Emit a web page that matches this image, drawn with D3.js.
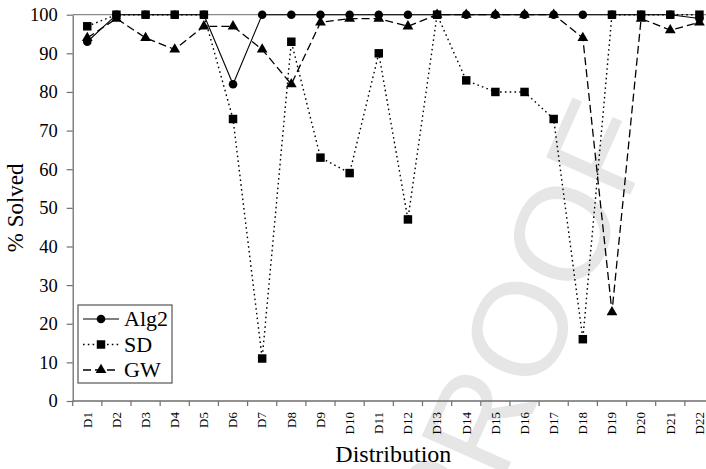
<!DOCTYPE html>
<html>
<head>
<meta charset="utf-8">
<script src="https://cdn.jsdelivr.net/npm/d3@7"></script>
<style>
  html, body { margin: 0; padding: 0; background: #fff; overflow: hidden; }
  svg { display: block; }
</style>
</head>
<body>
<svg id="chart" width="706" height="469"></svg>
<script>
const categories = ["D1","D2","D3","D4","D5","D6","D7","D8","D9","D10","D11","D12","D13","D14","D15","D16","D17","D18","D19","D20","D21","D22"];
const alg2 = [93,100,100,100,100,82,100,100,100,100,100,100,100,100,100,100,100,100,100,100,100,99];
const sd   = [97,100,100,100,100,73,11,93,63,59,90,47,100,83,80,80,73,16,100,100,100,100];
const gw   = [94,99,94,91,97,97,91,82,98,99,99,97,100,100,100,100,100,94,23,99,96,98];
const yTicks = [0,10,20,30,40,50,60,70,80,90,100];
const seriesNames = ["Alg2","SD","GW"];

const SERIF = '"Liberation Serif", "Times New Roman", serif';
const SANS = '"Liberation Sans", Arial, sans-serif';

const svg = d3.select("#chart");
const pLeft = 72.7, pRight = 714, pTop = 14.7, pBottom = 401;

const x = d3.scaleBand().domain(categories).range([pLeft, pRight]).padding(0);
const y = d3.scaleLinear().domain([0, 100]).range([pBottom, pTop]);

// watermark
svg.append("text")
  .style("font-family", SANS)
  .attr("transform", "translate(518,328) rotate(-66)")
  .attr("text-anchor", "middle")
  .attr("dy", "0.36em")
  .attr("font-size", 134)
  .attr("fill", "#e6e6e6")
  .text("PROOF");

const axisColor = "#6e6e6e";

// top line at 100
svg.append("line")
  .attr("x1", pLeft).attr("x2", pRight)
  .attr("y1", y(100)).attr("y2", y(100))
  .attr("stroke", "#8a8a8a").attr("stroke-width", 1.3);

// y axis
const yAxis = d3.axisLeft(y).tickValues(yTicks).tickSize(6).tickPadding(9).tickSizeOuter(0);
const gy = svg.append("g").attr("transform", `translate(${pLeft},0)`).call(yAxis);
gy.select(".domain").attr("stroke", axisColor).attr("stroke-width", 1.3);
gy.selectAll(".tick line").attr("stroke", axisColor).attr("stroke-width", 1.2);
gy.selectAll(".tick text")
  .style("font-family", SERIF).style("font-size", "18.5px").attr("fill", "#000");

// x axis
const gx = svg.append("g");
gx.append("line").attr("x1", pLeft).attr("x2", pRight).attr("y1", pBottom).attr("y2", pBottom)
  .attr("stroke", axisColor).attr("stroke-width", 1.3);
const boundaries = categories.map(c => x(c)).concat([x(categories[categories.length-1]) + x.bandwidth()]);
gx.selectAll("line.tk").data(boundaries).join("line").attr("class","tk")
  .attr("x1", d => d).attr("x2", d => d).attr("y1", pBottom).attr("y2", pBottom + 5)
  .attr("stroke", axisColor).attr("stroke-width", 1.2);
gx.selectAll("text.lbl").data(categories).join("text").attr("class","lbl")
  .style("font-family", SERIF).style("font-size", "13px")
  .attr("transform", d => `translate(${x(d) + x.bandwidth()/2},412) rotate(-90)`)
  .attr("text-anchor", "end")
  .attr("dy", "0.33em")
  .text(d => d);

// axis titles
svg.append("text")
  .style("font-family", SERIF).style("font-size", "24px")
  .attr("x", (pLeft + pRight) / 2).attr("y", 462)
  .attr("text-anchor", "middle")
  .text("Distribution");
svg.append("text")
  .style("font-family", SERIF).style("font-size", "23px")
  .attr("transform", `translate(15,${(pTop + pBottom) / 2}) rotate(-90)`)
  .attr("text-anchor", "middle").attr("dy", "0.33em")
  .text("% Solved");

// series
const styles = {
  Alg2: { data: alg2, dash: null, width: 1.1, sym: d3.symbolCircle, size: 58 },
  SD:   { data: sd,   dash: "1.6,3.2", width: 1.4, sym: d3.symbolSquare, size: 72 },
  GW:   { data: gw,   dash: "8,4", width: 1.3, sym: d3.symbolTriangle, size: 50 }
};
const line = d3.line().x((d, i) => x(categories[i]) + x.bandwidth()/2).y(d => y(d));
const drawOrder = ["GW", "Alg2", "SD"];
drawOrder.forEach(name => {
  const s = styles[name];
  const g = svg.append("g");
  g.append("path").datum(s.data)
    .attr("d", line)
    .attr("fill", "none").attr("stroke", "#000").attr("stroke-width", s.width)
    .attr("stroke-dasharray", s.dash);
  g.selectAll("path.m").data(s.data).join("path").attr("class","m")
    .attr("transform", (d, i) => `translate(${x(categories[i]) + x.bandwidth()/2},${y(d)})`)
    .attr("d", d3.symbol().type(s.sym).size(s.size))
    .attr("fill", "#000");
});

// legend
const lg = svg.append("g");
lg.append("rect").attr("x", 78).attr("y", 305).attr("width", 94).attr("height", 78)
  .attr("fill", "#fff").attr("stroke", "#555").attr("stroke-width", 1.2);
seriesNames.forEach((name, i) => {
  const s = styles[name];
  const cy = 319 + i * 25.5;
  lg.append("line").attr("x1", 83).attr("x2", 119).attr("y1", cy).attr("y2", cy)
    .attr("stroke", "#000").attr("stroke-width", s.width).attr("stroke-dasharray", s.dash);
  lg.append("path").attr("transform", `translate(101,${cy})`)
    .attr("d", d3.symbol().type(s.sym).size(s.size)).attr("fill", "#000");
  lg.append("text")
    .style("font-family", SERIF).style("font-size", "22px")
    .attr("x", 124).attr("y", cy).attr("dy", "0.34em")
    .text(name);
});
</script>
</body>
</html>
